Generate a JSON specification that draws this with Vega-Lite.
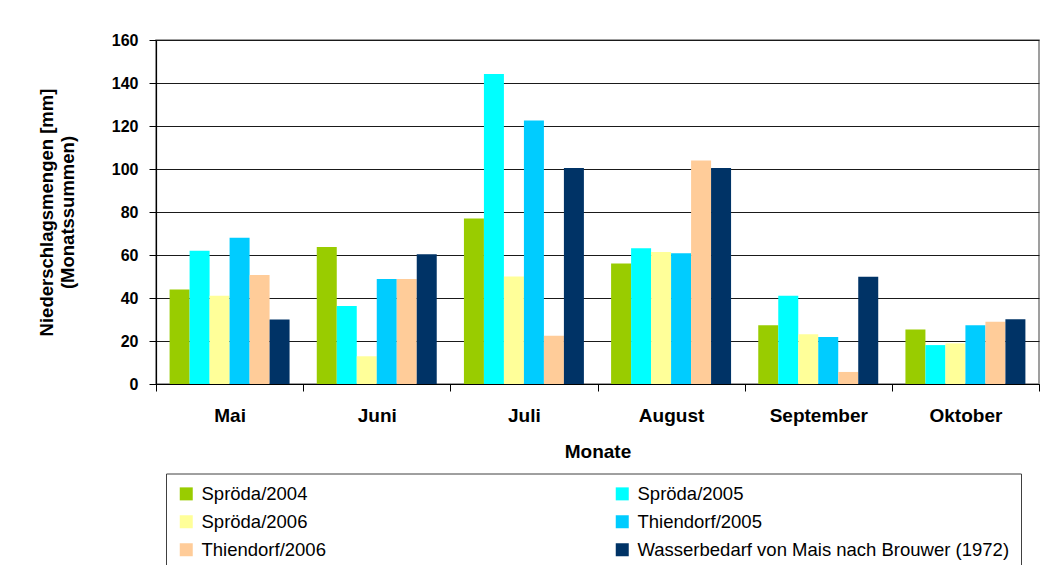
{
  "$schema": "https://vega.github.io/schema/vega-lite/v6.json",
  "width": 883,
  "height": 344,
  "autosize": {"type": "none"},
  "padding": {"left": 156, "top": 40, "right": 2, "bottom": 181},
  "background": "white",
  "config": {
    "view": {"stroke": "#808080", "strokeWidth": 1.5},
    "font": "Liberation Sans",
    "axis": {
      "labelFont": "Liberation Sans",
      "labelFontWeight": "bold",
      "labelColor": "#000000",
      "titleFont": "Liberation Sans",
      "titleFontWeight": "bold",
      "titleColor": "#000000",
      "domainColor": "#000000",
      "domainWidth": 1.2,
      "tickColor": "#000000",
      "tickSize": 7,
      "gridColor": "#1a1a1a",
      "gridWidth": 1
    }
  },
  "data": {
    "values": [
      {"monat": "Mai", "reihe": "Spröda/2004", "wert": 44},
      {"monat": "Mai", "reihe": "Spröda/2005", "wert": 62},
      {"monat": "Mai", "reihe": "Spröda/2006", "wert": 41},
      {"monat": "Mai", "reihe": "Thiendorf/2005", "wert": 68},
      {"monat": "Mai", "reihe": "Thiendorf/2006", "wert": 50.7},
      {"monat": "Mai", "reihe": "Wasserbedarf von Mais nach Brouwer (1972)", "wert": 30},
      {"monat": "Juni", "reihe": "Spröda/2004", "wert": 63.7},
      {"monat": "Juni", "reihe": "Spröda/2005", "wert": 36.3},
      {"monat": "Juni", "reihe": "Spröda/2006", "wert": 12.9},
      {"monat": "Juni", "reihe": "Thiendorf/2005", "wert": 48.8},
      {"monat": "Juni", "reihe": "Thiendorf/2006", "wert": 48.8},
      {"monat": "Juni", "reihe": "Wasserbedarf von Mais nach Brouwer (1972)", "wert": 60.3},
      {"monat": "Juli", "reihe": "Spröda/2004", "wert": 77},
      {"monat": "Juli", "reihe": "Spröda/2005", "wert": 144.2},
      {"monat": "Juli", "reihe": "Spröda/2006", "wert": 50},
      {"monat": "Juli", "reihe": "Thiendorf/2005", "wert": 122.6},
      {"monat": "Juli", "reihe": "Thiendorf/2006", "wert": 22.5},
      {"monat": "Juli", "reihe": "Wasserbedarf von Mais nach Brouwer (1972)", "wert": 100.5},
      {"monat": "August", "reihe": "Spröda/2004", "wert": 56},
      {"monat": "August", "reihe": "Spröda/2005", "wert": 63.1},
      {"monat": "August", "reihe": "Spröda/2006", "wert": 61.4},
      {"monat": "August", "reihe": "Thiendorf/2005", "wert": 60.8},
      {"monat": "August", "reihe": "Thiendorf/2006", "wert": 104},
      {"monat": "August", "reihe": "Wasserbedarf von Mais nach Brouwer (1972)", "wert": 100.5},
      {"monat": "September", "reihe": "Spröda/2004", "wert": 27.3},
      {"monat": "September", "reihe": "Spröda/2005", "wert": 41},
      {"monat": "September", "reihe": "Spröda/2006", "wert": 23.1},
      {"monat": "September", "reihe": "Thiendorf/2005", "wert": 21.9},
      {"monat": "September", "reihe": "Thiendorf/2006", "wert": 5.6},
      {"monat": "September", "reihe": "Wasserbedarf von Mais nach Brouwer (1972)", "wert": 49.9},
      {"monat": "Oktober", "reihe": "Spröda/2004", "wert": 25.4},
      {"monat": "Oktober", "reihe": "Spröda/2005", "wert": 18.1},
      {"monat": "Oktober", "reihe": "Spröda/2006", "wert": 18.9},
      {"monat": "Oktober", "reihe": "Thiendorf/2005", "wert": 27.3},
      {"monat": "Oktober", "reihe": "Thiendorf/2006", "wert": 29},
      {"monat": "Oktober", "reihe": "Wasserbedarf von Mais nach Brouwer (1972)", "wert": 30.1}
    ]
  },
  "mark": {"type": "bar"},
  "encoding": {
    "x": {
      "field": "monat",
      "type": "nominal",
      "sort": ["Mai", "Juni", "Juli", "August", "September", "Oktober"],
      "scale": {"paddingInner": 0, "paddingOuter": 0},
      "axis": {
        "title": "Monate",
        "labelAngle": 0,
        "tickBand": "extent",
        "labelFontSize": 19,
        "labelPadding": 15,
        "titleFontSize": 19,
        "titlePadding": 17
      }
    },
    "xOffset": {
      "field": "reihe",
      "type": "nominal",
      "sort": ["Spröda/2004", "Spröda/2005", "Spröda/2006", "Thiendorf/2005", "Thiendorf/2006", "Wasserbedarf von Mais nach Brouwer (1972)"],
      "scale": {"paddingInner": 0, "paddingOuter": 0.68}
    },
    "y": {
      "field": "wert",
      "type": "quantitative",
      "scale": {"domain": [0, 160], "nice": false},
      "axis": {
        "title": ["Niederschlagsmengen [mm]", "(Monatssummen)"],
        "values": [0, 20, 40, 60, 80, 100, 120, 140, 160],
        "labelFontSize": 16,
        "labelPadding": 11,
        "titleFontSize": 18.5,
        "titlePadding": 34,
        "titleLineHeight": 21
      }
    },
    "color": {
      "field": "reihe",
      "type": "nominal",
      "scale": {
        "domain": ["Spröda/2004", "Spröda/2005", "Spröda/2006", "Thiendorf/2005", "Thiendorf/2006", "Wasserbedarf von Mais nach Brouwer (1972)"],
        "range": ["#99CC00", "#00FFFF", "#FFFF99", "#00CCFF", "#FFCC99", "#003366"]
      },
      "legend": {
        "title": null,
        "orient": "none",
        "direction": "horizontal",
        "legendX": 10,
        "legendY": 433.5,
        "columns": 2,
        "columnPadding": 287,
        "rowPadding": 9,
        "symbolType": "square",
        "symbolSize": 169,
        "symbolStrokeWidth": 0,
        "labelOffset": 6,
        "labelFont": "Liberation Sans",
        "labelFontSize": 18.5,
        "labelColor": "#000000",
        "labelLimit": 500,
        "strokeColor": "#404040",
        "padding": 11,
        "offset": 0
      }
    }
  }
}
